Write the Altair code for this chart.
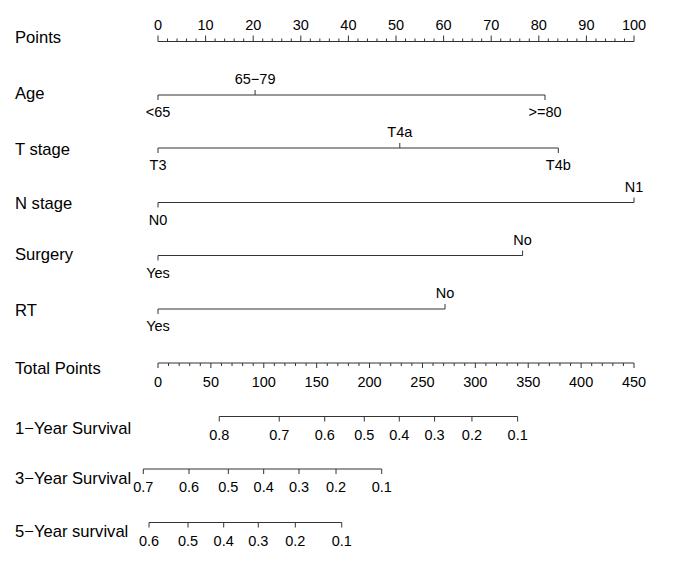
import altair as alt
import pandas as pd

# ---------------- data ----------------
points_major = [0, 10, 20, 30, 40, 50, 60, 70, 80, 90, 100]
total_major = [0, 50, 100, 150, 200, 250, 300, 350, 400, 450]

age_levels = ["<65", "65\u221279", ">=80"]
age_points = [0, 20.4, 81.3]

t_levels = ["T3", "T4a", "T4b"]
t_points = [0, 50.8, 84.1]

n_levels = ["N0", "N1"]
n_points = [0, 100]

surgery_levels = ["Yes", "No"]
surgery_points = [0, 76.6]

rt_levels = ["Yes", "No"]
rt_points = [0, 60.3]

surv1_labels = ["0.8", "0.7", "0.6", "0.5", "0.4", "0.3", "0.2", "0.1"]
surv1_total = [57.9, 114.6, 157.6, 195.0, 228.1, 261.5, 296.8, 340.0]

surv3_labels = ["0.7", "0.6", "0.5", "0.4", "0.3", "0.2", "0.1"]
surv3_total = [-13.9, 29.3, 66.5, 99.9, 133.3, 168.3, 211.5]

surv5_labels = ["0.6", "0.5", "0.4", "0.3", "0.2", "0.1"]
surv5_total = [-8.5, 28.4, 62.1, 94.8, 129.8, 173.7]

MAX_POINTS = 100
MAX_TOTAL = 450

# ---------------- layout ----------------
W, H = 669, 548
X_RANGE = [150, 626]          # pixels for points 0..100
ROWS = {
    # name: (row label centre y, axis line y)
    "Points": (36, 41.5),
    "Age": (92.5, 95),
    "T stage": (148, 148),
    "N stage": (202, 202.5),
    "Surgery": (253, 255.5),
    "RT": (309, 309),
    "Total Points": (367, 363),
    "1\u2212Year Survival": (427, 416.5),
    "3\u2212Year Survival": (477, 469),
    "5\u2212Year survival": (530, 522.5),
}
TICK = 5
LAB_OFF = 16.5
TEXT_DY = 1.5
LINE_COLOR = "#333333"
FONT = "Liberation Sans"

rules, ticks, labels = [], [], []

def tp_to_pts(v):
    return v * MAX_POINTS / MAX_TOTAL

# Points axis (labels above, ticks up)
_, yl = ROWS["Points"]
rules.append(dict(x=0, x2=100, y=yl, y2=yl))
for v in range(0, 101, 2):
    ln = 6 if v % 10 == 0 else 3
    ticks.append(dict(x=v, x2=v, y=yl, y2=yl - ln))
for v in points_major:
    labels.append(dict(x=v, y=yl - 17, text=str(v)))

# categorical rows
for name, levs, pts in [("Age", age_levels, age_points),
                        ("T stage", t_levels, t_points),
                        ("N stage", n_levels, n_points),
                        ("Surgery", surgery_levels, surgery_points),
                        ("RT", rt_levels, rt_points)]:
    _, yl = ROWS[name]
    rules.append(dict(x=min(pts), x2=max(pts), y=yl, y2=yl))
    for i, (lv, p) in enumerate(zip(levs, pts)):
        sgn = 1 if i % 2 == 0 else -1
        ticks.append(dict(x=p, x2=p, y=yl, y2=yl + sgn * TICK))
        labels.append(dict(x=p, y=yl + sgn * LAB_OFF, text=lv))

# Total points axis (ticks down, labels below)
_, yl = ROWS["Total Points"]
rules.append(dict(x=0, x2=100, y=yl, y2=yl))
for v in range(0, 451, 10):
    ln = 5 if v % 50 == 0 else 3
    ticks.append(dict(x=tp_to_pts(v), x2=tp_to_pts(v), y=yl, y2=yl + ln))
for v in total_major:
    labels.append(dict(x=tp_to_pts(v), y=yl + 18, text=str(v)))

# survival axes
for name, labs, tots in [("1\u2212Year Survival", surv1_labels, surv1_total),
                         ("3\u2212Year Survival", surv3_labels, surv3_total),
                         ("5\u2212Year survival", surv5_labels, surv5_total)]:
    _, yl = ROWS[name]
    xs = [tp_to_pts(t) for t in tots]
    rules.append(dict(x=min(xs), x2=max(xs), y=yl, y2=yl))
    for lab, xv in zip(labs, xs):
        ticks.append(dict(x=xv, x2=xv, y=yl, y2=yl + TICK))
        labels.append(dict(x=xv, y=yl + 17.5, text=lab))

row_df = pd.DataFrame([dict(y=v[0], text=k) for k, v in ROWS.items()])
line_df = pd.DataFrame(rules + ticks)
lab_df = pd.DataFrame(labels)

xs = alt.Scale(domain=[0, 100], range=X_RANGE, zero=False, nice=False)
ys = alt.Scale(domain=[8, 8 + H], range=[0, H], zero=False, nice=False)

lines = alt.Chart(line_df).mark_rule(color=LINE_COLOR, strokeWidth=1).encode(
    x=alt.X("x:Q", scale=xs, axis=None),
    x2="x2:Q",
    y=alt.Y("y:Q", scale=ys, axis=None),
    y2="y2:Q",
)

tick_text = alt.Chart(lab_df).mark_text(
    font=FONT, fontSize=14.5, color="black", align="center", baseline="middle",
    dy=TEXT_DY,
).encode(
    x=alt.X("x:Q", scale=xs, axis=None),
    y=alt.Y("y:Q", scale=ys, axis=None),
    text="text:N",
)

row_text = alt.Chart(row_df).mark_text(
    font=FONT, fontSize=16.6, color="black", align="left", baseline="middle",
    dy=TEXT_DY,
).encode(
    x=alt.value(7),
    y=alt.Y("y:Q", scale=ys, axis=None),
    text="text:N",
)

chart = alt.layer(lines, tick_text, row_text).properties(
    width=W, height=H, padding=0, autosize=alt.AutoSizeParams(type="none"),
    background="white",
).configure_view(stroke=None)

chart.save("out.html", embed_options={"renderer": "svg", "actions": False})
